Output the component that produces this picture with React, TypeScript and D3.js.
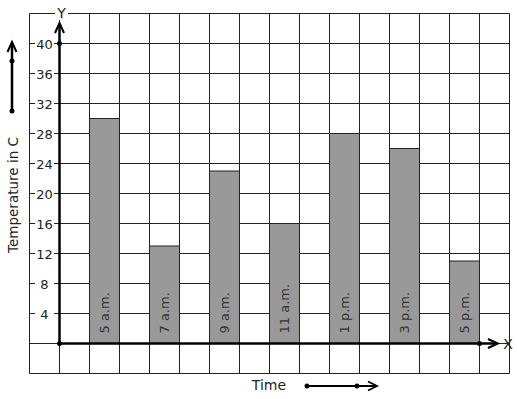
import React from "react";
import * as d3 from "d3";

const categories = ["5 a.m.", "7 a.m.", "9 a.m.", "11 a.m.", "1 p.m.", "3 p.m.", "5 p.m."];
const temperatures = [30, 13, 23, 16, 28, 26, 11];
const yTicks = [4, 8, 12, 16, 20, 24, 28, 32, 36, 40];

const W = 517;
const H = 399;
const FONT = "DejaVu Sans, sans-serif";

export default function App() {
  // grid columns: 16 columns of 1 unit each; axis at column 1
  const x = d3.scaleLinear().domain([0, 16]).range([29.5, 509.5]);
  const y = d3.scaleLinear().domain([-4, 44]).range([373.5, 13.5]);
  const colIdx = d3.range(0, 17);
  const rowVals = d3.range(-4, 45, 4);
  const barX = (i: number) => x(2 + i * 2);
  const barW = x(1) - x(0);
  const x0 = x(1);
  const y0 = y(0);

  return (
    <svg width={W} height={H} style={{ position: "absolute", left: 0, top: 0, background: "#fff" }}>
      <rect width={W} height={H} fill="#fff" />
      {/* grid */}
      {colIdx.map((c) => (
        <line key={"v" + c} x1={x(c)} x2={x(c)} y1={y(44)} y2={y(-4)} stroke="#222" strokeWidth={1} />
      ))}
      {rowVals.map((v) => (
        <line key={"h" + v} x1={x(0)} x2={x(16)} y1={y(v)} y2={y(v)} stroke="#222" strokeWidth={1} />
      ))}
      {/* bars */}
      {temperatures.map((t, i) => (
        <rect key={"b" + i} x={barX(i)} y={y(t)} width={barW} height={y0 - y(t)} fill="#999999" stroke="#222" strokeWidth={1} />
      ))}
      {categories.map((c, i) => {
        const cx = barX(i) + barW / 2 + 4;
        const cy = y0 - 10;
        return (
          <text key={"c" + i} x={cx} y={cy} transform={`rotate(-90 ${cx} ${cy})`} fontFamily={FONT} fontSize={13} fill="#333">
            {c}
          </text>
        );
      })}
      {/* y tick labels with white background */}
      {yTicks.map((v) => (
        <g key={"t" + v}>
          <rect x={35} y={y(v) - 7} width={19} height={14} fill="#fff" />
          <text x={44.5} y={y(v) + 5} textAnchor="middle" fontFamily={FONT} fontSize={13} fill="#222">
            {v}
          </text>
        </g>
      ))}
      {/* axes */}
      <line x1={x0} x2={x0} y1={y0} y2={24} stroke="#000" strokeWidth={2.5} />
      <path d={`M${x0 - 4.5},${33} L${x0},${23} L${x0 + 4.5},${33}`} fill="none" stroke="#000" strokeWidth={2} />
      <line x1={x0} x2={497} y1={y0} y2={y0} stroke="#000" strokeWidth={2.5} />
      <path d={`M${488},${y0 - 4.5} L${498},${y0} L${488},${y0 + 4.5}`} fill="none" stroke="#000" strokeWidth={2} />
      <circle cx={x0} cy={y(40)} r={2.5} fill="#000" />
      <circle cx={x0} cy={y0} r={2.5} fill="#000" />
      <circle cx={x(15)} cy={y0} r={2.5} fill="#000" />
      {/* axis letters */}
      <rect x={55} y={4} width={13} height={16} fill="#fff" />
      <text x={61.5} y={18} textAnchor="middle" fontFamily={FONT} fontSize={14} fill="#222">Y</text>
      <text x={508} y={y0 + 5} textAnchor="middle" fontFamily={FONT} fontSize={14} fill="#222">X</text>
      {/* y axis title and arrow */}
      <text x={18} y={195} transform="rotate(-90 18 195)" textAnchor="middle" fontFamily={FONT} fontSize={13.5} fill="#222">
        Temperature in C
      </text>
      <line x1={12} x2={12} y1={111} y2={43} stroke="#000" strokeWidth={2.5} />
      <path d="M7.5,52 L12,42 L16.5,52" fill="none" stroke="#000" strokeWidth={2} />
      <circle cx={12} cy={61} r={2.5} fill="#000" />
      <circle cx={12} cy={111} r={2.5} fill="#000" />
      {/* x axis title and arrow */}
      <text x={269} y={390} textAnchor="middle" fontFamily={FONT} fontSize={14} fill="#222">Time</text>
      <line x1={307} x2={376} y1={386} y2={386} stroke="#000" strokeWidth={2} />
      <path d="M368,381.5 L377,386 L368,390.5" fill="none" stroke="#000" strokeWidth={1.8} />
      <circle cx={307} cy={386} r={2.5} fill="#000" />
      <circle cx={357} cy={386} r={2.5} fill="#000" />
    </svg>
  );
}
